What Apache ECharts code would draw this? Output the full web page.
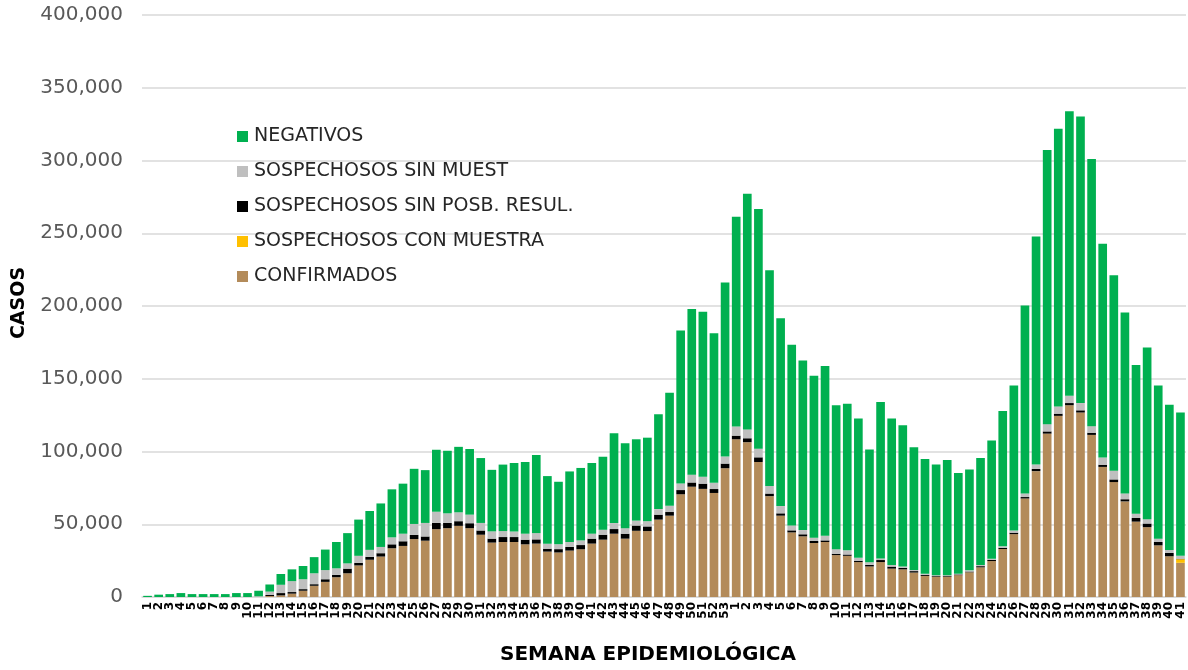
<!DOCTYPE html>
<html>
<head>
<meta charset="utf-8">
<script src="https://cdn.jsdelivr.net/npm/echarts@6/dist/echarts.min.js"></script>
<style>
html,body{margin:0;padding:0;background:#fff;}
#chart{width:1188px;height:670px;}
</style>
</head>
<body>
<div id="chart"></div>
<script>
// Week labels: 2020 weeks 1-53, 2021 weeks 1-41
const weeks = [
 "1","2","3","4","5","6","7","8","9","10","11","12","13","14","15","16","17","18","19","20",
 "21","22","23","24","25","26","27","28","29","30","31","32","33","34","35","36","37","38","39","40",
 "41","42","43","44","45","46","47","48","49","50","51","52","53",
 "1","2","3","4","5","6","7","8","9","10","11","12","13","14","15","16","17","18","19","20",
 "21","22","23","24","25","26","27","28","29","30","31","32","33","34","35","36","37","38","39","40","41"
];

const confirmados = [
 0,0,0,0,0,0,0,0,0,0,0,700,1100,2300,4300,7700,10400,13600,16300,21700,
 25600,27800,33500,35100,39800,38700,46600,47300,48900,47300,42800,37400,37800,37800,36200,36700,31200,30600,31900,32800,
 36700,39400,43500,40100,45500,45300,53200,55900,70600,75800,74300,71500,88500,
 108400,106400,92800,69300,55900,44400,41700,37100,37800,28800,28300,24000,21000,24000,19500,19000,16800,14500,14000,14000,
 15000,17000,20400,24700,33000,43200,67700,86500,112300,124500,131800,126800,111400,89400,79000,65700,51800,48000,35500,28000,23500
];

const conMuestra = [
 0,0,0,0,0,0,0,0,0,0,0,0,0,0,0,0,0,0,0,0,
 0,0,0,0,0,0,0,0,0,0,0,0,0,0,0,0,0,0,0,0,
 0,0,0,0,0,0,0,0,0,0,0,0,0,
 0,0,0,0,0,0,0,0,0,0,0,0,0,0,0,0,0,0,0,0,
 0,0,0,0,0,0,0,0,0,0,0,0,0,0,0,0,0,0,0,0,2500
];

const sinPosibResul = [
 0,0,0,0,0,0,0,0,0,0,0,700,1600,1100,1100,1100,1800,1600,3200,1800,
 2000,2300,2700,3200,2900,2900,4300,3600,3200,3400,2900,2700,3400,3400,3200,2900,2000,2300,2500,2900,
 3400,3400,3200,3400,3600,3200,3400,2500,2900,2900,3600,2700,3200,
 2500,2700,3200,1800,1600,1400,1400,1400,1100,900,900,900,1100,1400,1400,1000,1000,700,500,500,
 500,500,800,800,800,1000,1000,1500,1500,1500,1500,1500,1500,1500,1800,1500,2500,2500,2300,2300,300
];

const sinMuestra = [
 0,0,0,0,0,0,0,0,0,0,500,2300,5700,7500,6800,7500,6300,4500,3600,4800,
 4800,4300,4800,5200,7500,9300,7700,6600,6100,5900,5200,5000,4100,3800,4100,4300,3400,3400,3400,3200,
 3400,3400,4100,3800,3400,3600,3800,4300,4500,5400,4800,4300,4800,
 6300,6100,5900,5200,5000,3400,2900,2300,3200,3200,2900,2000,1800,1100,1100,1000,800,800,500,500,
 500,800,800,800,1000,1500,2500,3000,5000,5000,5000,5000,4500,5000,6000,4000,3000,3000,2300,2000,2000
];

const negativos = [
 800,1600,2000,2700,2000,2000,2000,2000,2700,2700,3800,4900,7400,8100,9100,11100,14100,18100,20800,24900,
 26700,29900,33000,34400,37900,36300,42600,43000,45000,45100,44600,42300,45700,47100,49300,53700,46500,42900,48500,49800,
 48600,50200,61700,58400,55900,57400,65200,77700,105200,113800,113400,102800,119700,
 144200,161900,164800,148300,129000,124200,116600,111300,116600,98900,100800,95800,77500,107500,100600,97000,84400,78900,76000,79200,
 69300,69300,73500,81200,93100,99600,129100,156700,188400,190900,195600,197000,183600,146800,134400,124400,102100,117900,105200,99900,98500
];

const yTicks = [0, 50000, 100000, 150000, 200000, 250000, 300000, 350000, 400000];

const FONT = "'DejaVu Sans', sans-serif";
const chart = echarts.init(document.getElementById('chart'));

function fmt(v){ return v.toLocaleString('en-US'); }

const seriesDefs = [
  {name:'CONFIRMADOS', data:confirmados, color:'#B38B5A'},
  {name:'SOSPECHOSOS CON MUESTRA', data:conMuestra, color:'#FFC000'},
  {name:'SOSPECHOSOS SIN POSB. RESUL.', data:sinPosibResul, color:'#000000'},
  {name:'SOSPECHOSOS SIN MUEST', data:sinMuestra, color:'#BFBFBF'},
  {name:'NEGATIVOS', data:negativos, color:'#00B050'}
];

chart.setOption({
  animation:false,
  backgroundColor:'#ffffff',
  grid:{left:142, right:2, top:15, bottom:66, containLabel:false},
  legend:{
    orient:'vertical', left:232, top:122, itemWidth:11, itemHeight:11, itemGap:16,
    icon:'rect',
    data:['NEGATIVOS','SOSPECHOSOS SIN MUEST','SOSPECHOSOS SIN POSB. RESUL.','SOSPECHOSOS CON MUESTRA','CONFIRMADOS'],
    textStyle:{fontFamily:FONT, fontSize:19, color:'#262626', padding:[0,0,0,1]}
  },
  xAxis:{
    type:'category', data:weeks,
    name:'SEMANA EPIDEMIOLÓGICA', nameLocation:'middle', nameGap:48,
    nameTextStyle:{fontFamily:FONT, fontSize:20, fontWeight:'bold', color:'#000', padding:[0,32,0,0]},
    axisLine:{show:true, lineStyle:{color:'#D9D9D9', width:1.5}},
    axisTick:{show:false},
    axisLabel:{interval:0, rotate:90, fontFamily:FONT, fontSize:12, fontWeight:'bold', color:'#000', margin:5}
  },
  yAxis:{
    type:'value', min:0, max:400000, interval:50000,
    name:'CASOS', nameLocation:'middle', nameGap:113, nameRotate:90,
    nameTextStyle:{fontFamily:FONT, fontSize:19, fontWeight:'bold', color:'#000', padding:[0,0,0,6]},
    axisLine:{show:false}, axisTick:{show:false},
    splitLine:{lineStyle:{color:'#D9D9D9', width:1.5}},
    axisLabel:{fontFamily:FONT, fontSize:20, color:'#595959', margin:19,
      formatter:function(v){ return yTicks.indexOf(v) >= 0 ? fmt(v) : ''; }}
  },
  series: seriesDefs.map(s => ({
    name:s.name, type:'bar', stack:'total', data:s.data,
    barCategoryGap:'22%',
    itemStyle:{color:s.color},
    emphasis:{disabled:true}
  }))
});
</script>
</body>
</html>
